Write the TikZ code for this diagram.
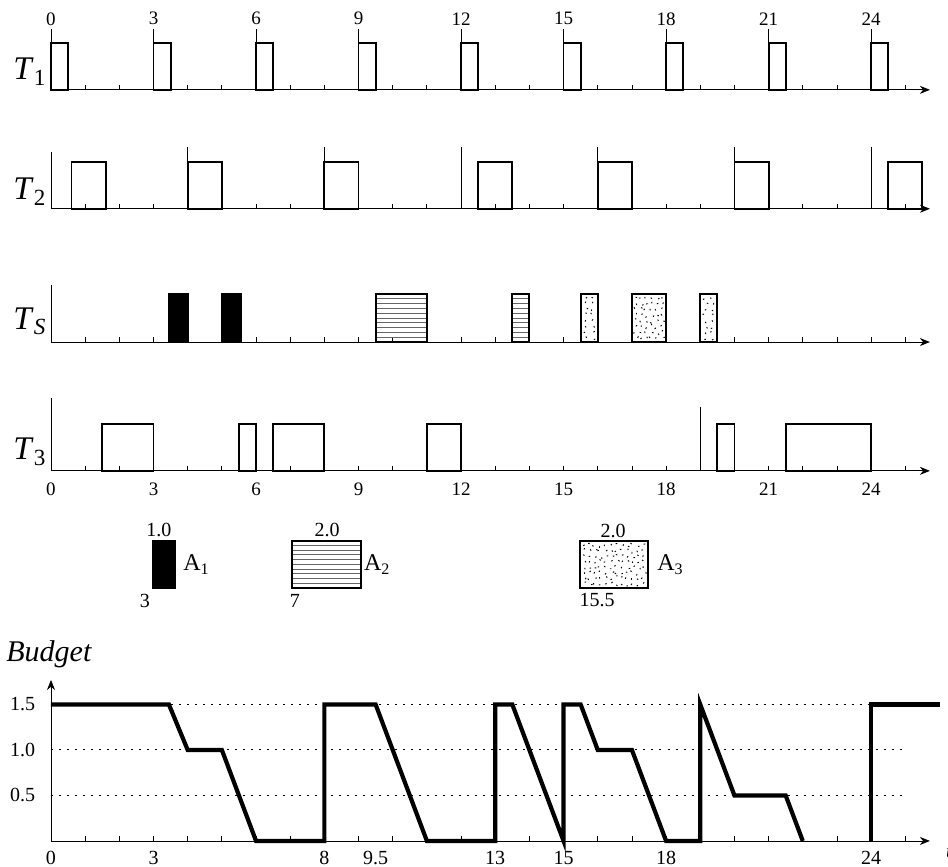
\documentclass[tikz,border=0pt]{standalone}
\usepackage{fontspec}
\setmainfont{Liberation Serif}
\usetikzlibrary{arrows.meta}

\newcommand*{\xmax}{25.72}
\newcommand*{\boxh}{1.37}
\newcommand*{\bzero}{0.76}
\newcommand*{\bunit}{2.663}

% horizontal hatching inside a box: x1 y1 x2 y2
\newcommand*{\hatchbox}[4]{%
	\foreach \i in {1,...,9} {
		\draw[gray!80!black,line width=0.5pt] (#1,{#2+\i*(#4-#2)/10}) -- (#3,{#2+\i*(#4-#2)/10});
	}
}
% jittered specks inside a box: x1 y1 x2 y2
\newcommand*{\speckbox}[4]{%
	\pgfmathtruncatemacro{\nx}{(#3-#1-0.08)/0.15}
	\pgfmathtruncatemacro{\ny}{(#4-#2-0.08)/0.15}
	\foreach \i in {1,...,\nx} {
		\foreach \j in {1,...,\ny} {
			\pgfmathsetmacro{\px}{#1+0.04+(\i-0.5)*(#3-#1-0.08)/\nx+0.05*rand}
			\pgfmathsetmacro{\py}{#2+0.04+(\j-0.5)*(#4-#2-0.08)/\ny+0.05*rand}
			\pgfmathsetmacro{\pa}{360*rnd}
			\draw[line width=0.45pt] (\px,\py) -- ++(\pa:0.045);
		}
	}
}

\begin{document}
\begin{tikzpicture}
[
	x=0.6cm,y=0.6cm,
	job/.style={draw,line width=0.9pt},
	axis/.style={-{Stealth[length=5pt,width=4pt]},line width=0.4pt},
	release/.style={line width=0.4pt},
	level/.style={dash pattern=on 1pt off 3pt,line width=0.45pt},
	budget/.style={line width=2.1pt,line join=miter},
	lab/.style={font=\fontsize{9.5}{10}\selectfont,inner sep=0pt},
	rowlab/.style={font=\fontsize{16.5}{18}\selectfont,inner sep=0pt,anchor=base west},
	alab/.style={font=\fontsize{12}{14}\selectfont,inner sep=0pt,anchor=west}
]
	\pgfmathsetseed{11}
	\useasboundingbox (-1.4925,0) rectangle (26.25,25.37);

	% row axes with ticks
	\foreach \ry/\vh in {22.74/1.79,19.26/1.67,15.36/1.67,11.59/2.14} {
		\draw[axis] (0,\ry) -- (\xmax,\ry);
		\draw[release] (0,\ry) -- (0,\ry+\vh);
		\foreach \x in {1,...,25} {
			\draw[release] (\x,\ry) -- (\x,\ry+0.15);
		}
	}

	% row labels
	\node[rowlab] (t1) at (-1.11,23.03) {\textit{T}\textsubscript{1}};
	\node[rowlab] (t2) at (-1.11,19.52) {\textit{T}\textsubscript{2}};
	\node[rowlab] (ts) at (-1.11,15.72) {\textit{T}\textsubscript{\textit{S}}};
	\node[rowlab] (t3) at (-1.11,11.91) {\textit{T}\textsubscript{3}};

	% time labels
	\foreach \t in {0,3,...,24} {
		\node[lab] (top\t) at (\t,24.82) {\t};
		\node[lab] (bot\t) at (\t,11.05) {\t};
	}

	% T1
	\begin{scope}[shift={(0,22.74)}]
		\foreach \t in {0,3,...,24} {
			\draw[release] (\t,0) -- (\t,1.79);
			\draw[job] (\t,0) rectangle (\t+0.5,\boxh);
		}
	\end{scope}

	% T2
	\begin{scope}[shift={(0,19.26)}]
		\foreach \t in {4,8,...,24} {
			\draw[release] (\t,0) -- (\t,1.8);
		}
		\foreach \a/\b in {0.6/1.6,4/5,8/9,12.5/13.5,16/17,20/21,24.5/25.5} {
			\draw[job] (\a,0) rectangle (\b,\boxh);
		}
	\end{scope}

	% TS: aperiodic jobs
	\begin{scope}[shift={(0,15.36)}]
		\foreach \a/\b in {3.45/4,5/5.55} {
			\draw[job,fill=black] (\a,0) rectangle (\b,1.4);
		}
		\foreach \a/\b in {9.5/11,13.5/14} {
			\hatchbox{\a}{0}{\b}{1.4}
			\draw[job] (\a,0) rectangle (\b,1.4);
		}
		\foreach \a/\b in {15.5/16,17/18,19/19.5} {
			\speckbox{\a}{0}{\b}{1.4}
			\draw[job] (\a,0) rectangle (\b,1.4);
		}
	\end{scope}

	% T3
	\begin{scope}[shift={(0,11.59)}]
		\draw[release] (19,0) -- (19,1.87);
		\foreach \a/\b in {1.5/3,5.5/6,6.5/8,11/12,19.5/20,21.5/24} {
			\draw[job] (\a,0) rectangle (\b,\boxh);
		}
	\end{scope}

	% legend
	\draw[job,fill=black] (2.985,8.17) rectangle (3.63,9.54);
	\node[lab,font=\fontsize{10}{11}\selectfont] (a1top) at (3.16,9.86) {1.0};
	\node[lab,font=\fontsize{10}{11}\selectfont] (a1bot) at (2.75,7.78) {3};
	\node[alab] (a1) at (3.86,8.84) {A\textsubscript{1}};

	\hatchbox{7.05}{8.17}{9.07}{9.54}
	\draw[job] (7.05,8.17) rectangle (9.07,9.54);
	\node[lab,font=\fontsize{10}{11}\selectfont] (a2top) at (8.08,9.86) {2.0};
	\node[lab,font=\fontsize{10}{11}\selectfont] (a2bot) at (7.14,7.78) {7};
	\node[alab] (a2) at (9.15,8.84) {A\textsubscript{2}};

	\speckbox{15.48}{8.17}{17.47}{9.54}
	\draw[job] (15.48,8.17) rectangle (17.47,9.54);
	\node[lab,font=\fontsize{10}{11}\selectfont] (a3top) at (16.45,9.84) {2.0};
	\node[lab,font=\fontsize{10}{11}\selectfont] (a3bot) at (15.98,7.8) {15.5};
	\node[alab] (a3) at (17.73,8.84) {A\textsubscript{3}};

	% budget axes
	\node[anchor=base west,inner sep=0pt,font=\fontsize{15}{17}\selectfont\itshape] (bud) at (-1.32,6.0) {Budget};
	\draw[axis] (0,\bzero) -- (\xmax,\bzero);
	\draw[axis] (0,\bzero) -- (0,\bzero+4.71);
	\foreach \x in {1,...,25} {
		\draw[release] (\x,\bzero) -- (\x,\bzero+0.15);
	}
	\foreach \b [count=\i] in {0.5,1.0,1.5} {
		\draw[level] (0,\bzero+\bunit*\b) -- (25,\bzero+\bunit*\b);
		\node[lab,font=\fontsize{10}{11}\selectfont] (lev\i) at (-0.83,\bzero+\bunit*\b) {\b};
	}
	\foreach \t [count=\i] in {0,3,8,9.5,13,15,18,24} {
		\node[lab,font=\fontsize{10}{11}\selectfont] (blab\i) at (\t,0.26) {\t};
	}
	\node[lab,anchor=west,font=\fontsize{10}{11}\selectfont\itshape] (tlab) at (26.18,0.45) {t};

	% budget curve
	\begin{scope}[shift={(0,\bzero)},yscale=\bunit]
		\draw[budget] (0,1.5) -- (3.45,1.5) -- (4,1) -- (5,1) -- (6,0) -- (8,0) -- (8,1.5)
			-- (9.5,1.5) -- (11,0) -- (13,0) -- (13,1.5) -- (13.5,1.5) -- (15,0) -- (15,1.5)
			-- (15.5,1.5) -- (16,1) -- (17,1) -- (18,0) -- (19,0) -- (19,1.5) -- (20,0.5)
			-- (21.5,0.5) -- (22,0);
		\draw[budget] (24,0) -- (24,1.5) -- (26.02,1.5);
	\end{scope}

\end{tikzpicture}
\end{document}
